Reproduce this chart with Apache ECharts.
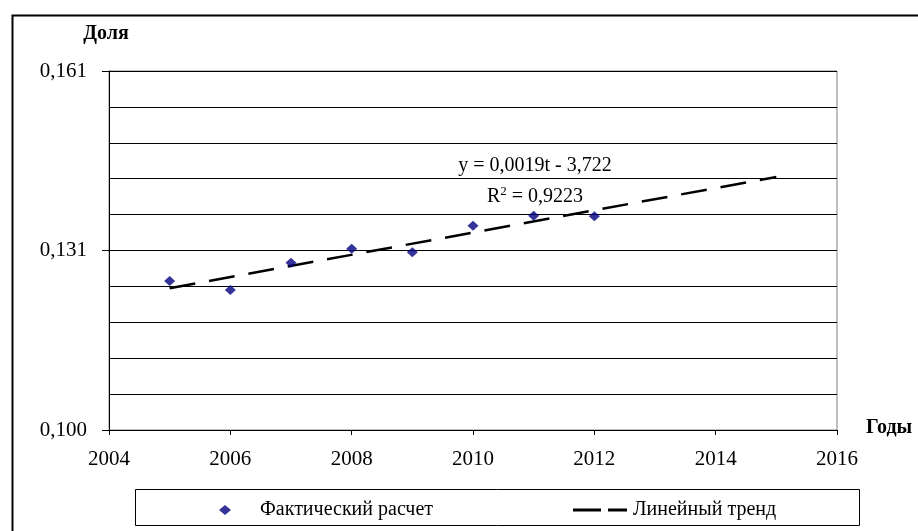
<!DOCTYPE html>
<html>
<head>
<meta charset="utf-8">
<script src="https://cdn.jsdelivr.net/npm/echarts@6/dist/echarts.min.js"></script>
<style>
html,body{margin:0;padding:0;background:#fff;}
#chart{width:918px;height:531px;}
</style>
</head>
<body>
<div id="chart"></div>
<script>
// ---- data ----
const years = [2005, 2006, 2007, 2008, 2009, 2010, 2011, 2012];
const shares = [0.1253, 0.1238, 0.1284, 0.1308, 0.1302, 0.1347, 0.1364, 0.1363];
const trendYears = [2005, 2015];
const trendValues = [0.1241, 0.1430];
const yTickValues = [0.100, 0.1305, 0.161];
const yTickLabels = ['0,100', '0,131', '0,161'];
const xTickLabels = ['2004', '2006', '2008', '2010', '2012', '2014', '2016'];
const seriesNames = ['Фактический расчет', 'Линейный тренд'];
const yAxisTitle = 'Доля';
const xAxisTitle = 'Годы';
const equationText = 'y = 0,0019t - 3,722';
const r2Value = '0,9223';

const FONT = '"Liberation Serif", "Times New Roman", serif';
const chart = echarts.init(document.getElementById('chart'), null, {renderer: 'canvas'});

const option = {
  animation: false,
  backgroundColor: '#fff',
  textStyle: {fontFamily: FONT, color: '#000'},
  grid: {left: 109, right: 81, top: 71, bottom: 101, show: true, borderColor: '#808080', borderWidth: 1},
  xAxis: {
    type: 'value', min: 2004, max: 2016, interval: 2,
    axisLine: {show: true, lineStyle: {color: '#000', width: 1}},
    axisTick: {show: true, length: 5, lineStyle: {color: '#000'}},
    splitLine: {show: false},
    axisLabel: {
      margin: 19, fontSize: 21, fontFamily: FONT, color: '#000',
      formatter: function (v) {
        const i = Math.round((v - 2004) / 2);
        return xTickLabels[i] !== undefined ? xTickLabels[i] : '';
      }
    }
  },
  yAxis: [
    {
      type: 'value', min: 0.100, max: 0.161,
      axisLine: {show: true, lineStyle: {color: '#000', width: 1}},
      axisTick: {show: true, length: 7, customValues: yTickValues, lineStyle: {color: '#000'}},
      splitLine: {show: false},
      axisLabel: {
        customValues: yTickValues, margin: 22, fontSize: 21, fontFamily: FONT, color: '#000',
        formatter: function (v) {
          for (let i = 0; i < yTickValues.length; i++) {
            if (Math.abs(yTickValues[i] - v) < 1e-6) return yTickLabels[i];
          }
          return '';
        }
      }
    },
    {
      // grid-line helper axis: 10 equal bands over the plot height
      type: 'value', min: 0, max: 10, interval: 1, position: 'left',
      axisLine: {show: false}, axisTick: {show: false}, axisLabel: {show: false},
      splitLine: {show: true, lineStyle: {color: '#000', width: 1}}
    }
  ],
  legend: [
    {
      data: [seriesNames[0]], left: 214, top: 495, orient: 'horizontal',
      itemWidth: 12, itemHeight: 10, icon: 'diamond',
      itemStyle: {color: '#000080'},
      textStyle: {fontFamily: FONT, fontSize: 20, color: '#000', padding: [0, 0, 0, 24]}
    },
    {
      data: [seriesNames[1]], left: 568, top: 495,
      itemWidth: 54, itemHeight: 3,
      icon: 'path://M0,0H28V3H0Z M35,0H54V3H35Z',
      itemStyle: {color: '#000'},
      textStyle: {fontFamily: FONT, fontSize: 20, color: '#000', padding: [0, 0, 0, 1]}
    }
  ],
  series: [
    {
      name: seriesNames[0], type: 'scatter', xAxisIndex: 0, yAxisIndex: 0,
      symbol: 'diamond', symbolSize: [11, 10],
      itemStyle: {color: '#000080'},
      data: years.map((y, i) => [y, shares[i]]),
      z: 5
    },
    {
      name: seriesNames[1], type: 'line', xAxisIndex: 0, yAxisIndex: 0,
      symbol: 'none', showSymbol: false,
      lineStyle: {color: '#000', width: 2.5, type: [26, 14]},
      itemStyle: {color: '#000'},
      data: trendYears.map((y, i) => [y, trendValues[i]]),
      z: 4
    }
  ],
  graphic: [
    {type: 'rect', left: 10, top: 13, shape: {width: 940, height: 560}, style: {fill: 'none', stroke: '#000', lineWidth: 2}, silent: true, z: 100},
    {type: 'rect', left: 133, top: 487, shape: {width: 724, height: 36}, style: {fill: 'none', stroke: '#000', lineWidth: 1}, silent: true},
    {type: 'text', x: 106, y: 34, style: {text: yAxisTitle, font: 'bold 20px ' + FONT, fill: '#000', align: 'center', verticalAlign: 'middle'}},
    {type: 'text', x: 866, y: 428, style: {text: xAxisTitle, font: 'bold 20px ' + FONT, fill: '#000', align: 'left', verticalAlign: 'middle'}},
    {type: 'text', x: 535, y: 166, style: {text: equationText, font: '20px ' + FONT, fill: '#000', align: 'center', verticalAlign: 'middle'}},
    {type: 'text', x: 535, y: 197, style: {
      align: 'center', verticalAlign: 'middle',
      rich: {
        n: {fontFamily: FONT, fontSize: 20, color: '#000'},
        s: {fontFamily: FONT, fontSize: 13, verticalAlign: 'top', color: '#000', padding: [0, 0, 10, 0]}
      },
      text: '{n|R}{s|2}{n| = ' + r2Value + '}'
    }}
  ]
};
chart.setOption(option);
</script>
</body>
</html>
